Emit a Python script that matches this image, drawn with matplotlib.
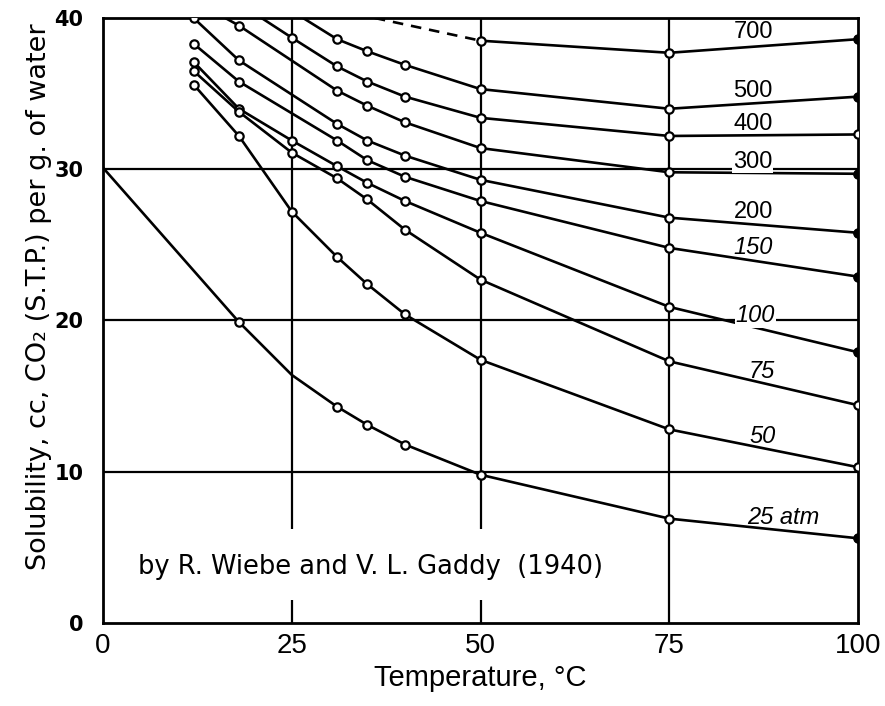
import matplotlib
matplotlib.use('Agg')
import matplotlib.pyplot as plt
from matplotlib.patches import Rectangle

plt.rcParams['font.family'] = ['Liberation Sans', 'DejaVu Sans']

# solubility of CO2 in water, cc (STP) per g
# temperatures in deg C; points without a circle are just where the curve runs
t700 = [50, 75, 100]
s700 = [38.5, 37.7, 38.6]
t700_dash = [36, 50]
s700_dash = [40.0, 38.5]

t500 = [26.5, 31, 35, 40, 50, 75, 100]
s500 = [40.0, 38.6, 37.8, 36.9, 35.3, 34.0, 34.8]

t400 = [21, 25, 31, 35, 40, 50, 75, 100]
s400 = [40.0, 38.7, 36.8, 35.8, 34.8, 33.4, 32.2, 32.3]

t300 = [16.2, 18, 31, 35, 40, 50, 75, 100]
s300 = [40.0, 39.5, 35.2, 34.2, 33.1, 31.4, 29.8, 29.7]

t200 = [12, 18, 31, 35, 40, 50, 75, 100]
s200 = [40.0, 37.2, 33.0, 31.9, 30.9, 29.3, 26.8, 25.8]

t150 = [12, 18, 31, 35, 40, 50, 75, 100]
s150 = [38.3, 35.8, 31.9, 30.6, 29.5, 27.9, 24.8, 22.9]

t100 = [12, 18, 25, 31, 35, 40, 50, 75, 100]
s100 = [37.1, 34.0, 31.9, 30.2, 29.1, 27.9, 25.8, 20.9, 17.9]

t75 = [12, 18, 25, 31, 35, 40, 50, 75, 100]
s75 = [36.5, 33.8, 31.1, 29.4, 28.0, 26.0, 22.7, 17.3, 14.4]

t50 = [12, 18, 25, 31, 35, 40, 50, 75, 100]
s50 = [35.6, 32.2, 27.2, 24.2, 22.4, 20.4, 17.4, 12.8, 10.3]

t25 = [0, 18, 25, 31, 35, 40, 50, 75, 100]
s25 = [30.1, 19.9, 16.4, 14.3, 13.1, 11.8, 9.8, 6.9, 5.6]

labels = ['700', '500', '400', '300', '200', '150', '100', '75', '50', '25 atm']

xticks = [0, 25, 50, 75, 100]
yticks = [0, 10, 20, 30, 40]

fig = plt.figure(figsize=(8.85, 7.06), dpi=100)
ax = fig.add_axes([0.1164, 0.1176, 0.8531, 0.8569])
ax.set_xlim(0, 100)
ax.set_ylim(0, 40)

# grid
for x in [25, 50, 75]:
    ax.axvline(x, color='black', lw=1.6, zorder=1)
for y in [10, 20, 30]:
    ax.axhline(y, color='black', lw=1.6, zorder=1)

curves = [
    (t700, s700, slice(0, None), True),
    (t500, s500, slice(1, None), True),
    (t400, s400, slice(1, None), False),
    (t300, s300, slice(1, None), True),
    (t200, s200, slice(0, None), True),
    (t150, s150, slice(0, None), True),
    (t100, s100, slice(0, None), True),
    (t75, s75, slice(0, None), False),
    (t50, s50, slice(0, None), False),
    (t25, s25, [1, 3, 4, 5, 6, 7, 8], True),
]

for t, s, marks, last_filled in curves:
    ax.plot(t, s, color='black', lw=1.9, zorder=3)
    ax.plot(t, s, ls='none', marker='o', ms=6, mfc='white', mec='black',
            mew=1.6, markevery=marks, zorder=4)
    if last_filled:
        ax.plot(t[-1], s[-1], ls='none', marker='o', ms=6, mfc='black',
                mec='black', zorder=5)

ax.plot(t700_dash, s700_dash, color='black', lw=1.9, ls=(0, (4, 3)), zorder=3)

# pressure labels; the two sitting on grid lines get a white patch
label_pos = [(86.1, 39.1), (86.0, 35.2), (86.1, 33.0), (86.0, 30.5),
             (86.1, 27.2), (86.1, 24.8), (86.4, 20.3), (87.3, 16.6),
             (87.3, 12.3), (90.1, 7.0)]
for i, (lab, (x, y)) in enumerate(zip(labels, label_pos)):
    box = None
    if lab in ('300', '100'):
        box = dict(facecolor='white', edgecolor='none', pad=0.5)
    ax.text(x, y, lab, fontsize=17, ha='center', va='center',
            style='italic' if i >= 5 else 'normal', zorder=6, bbox=box)

# white strip behind the credit, breaks the 25 and 50 grid lines
ax.add_patch(Rectangle((0.5, 1.5), 56, 4.7, facecolor='white',
                       edgecolor='none', zorder=2))
ax.text(4.6, 3.7, 'by R. Wiebe and V. L. Gaddy  (1940)', fontsize=18.5,
        family='DejaVu Sans', ha='left', va='center', zorder=6)

ax.set_xticks(xticks)
ax.set_yticks(yticks)
ax.tick_params(length=0)
ax.tick_params(axis='x', labelsize=20, pad=7)
ax.tick_params(axis='y', pad=14)
for lab in ax.get_yticklabels():
    lab.set_fontfamily('DejaVu Sans')
    lab.set_fontweight('bold')
    lab.set_fontsize(15)
for sp in ax.spines.values():
    sp.set_linewidth(2)

ax.set_xlabel('Temperature, \u00b0C', fontsize=21, labelpad=4)
ax.set_ylabel('Solubility, cc, CO\u2082 (S.T.P.) per g. of water', fontsize=19.5,
              family='DejaVu Sans', labelpad=8)
ax.yaxis.set_label_coords(-0.068, 0.54)

fig.savefig('out.png', dpi=100)
